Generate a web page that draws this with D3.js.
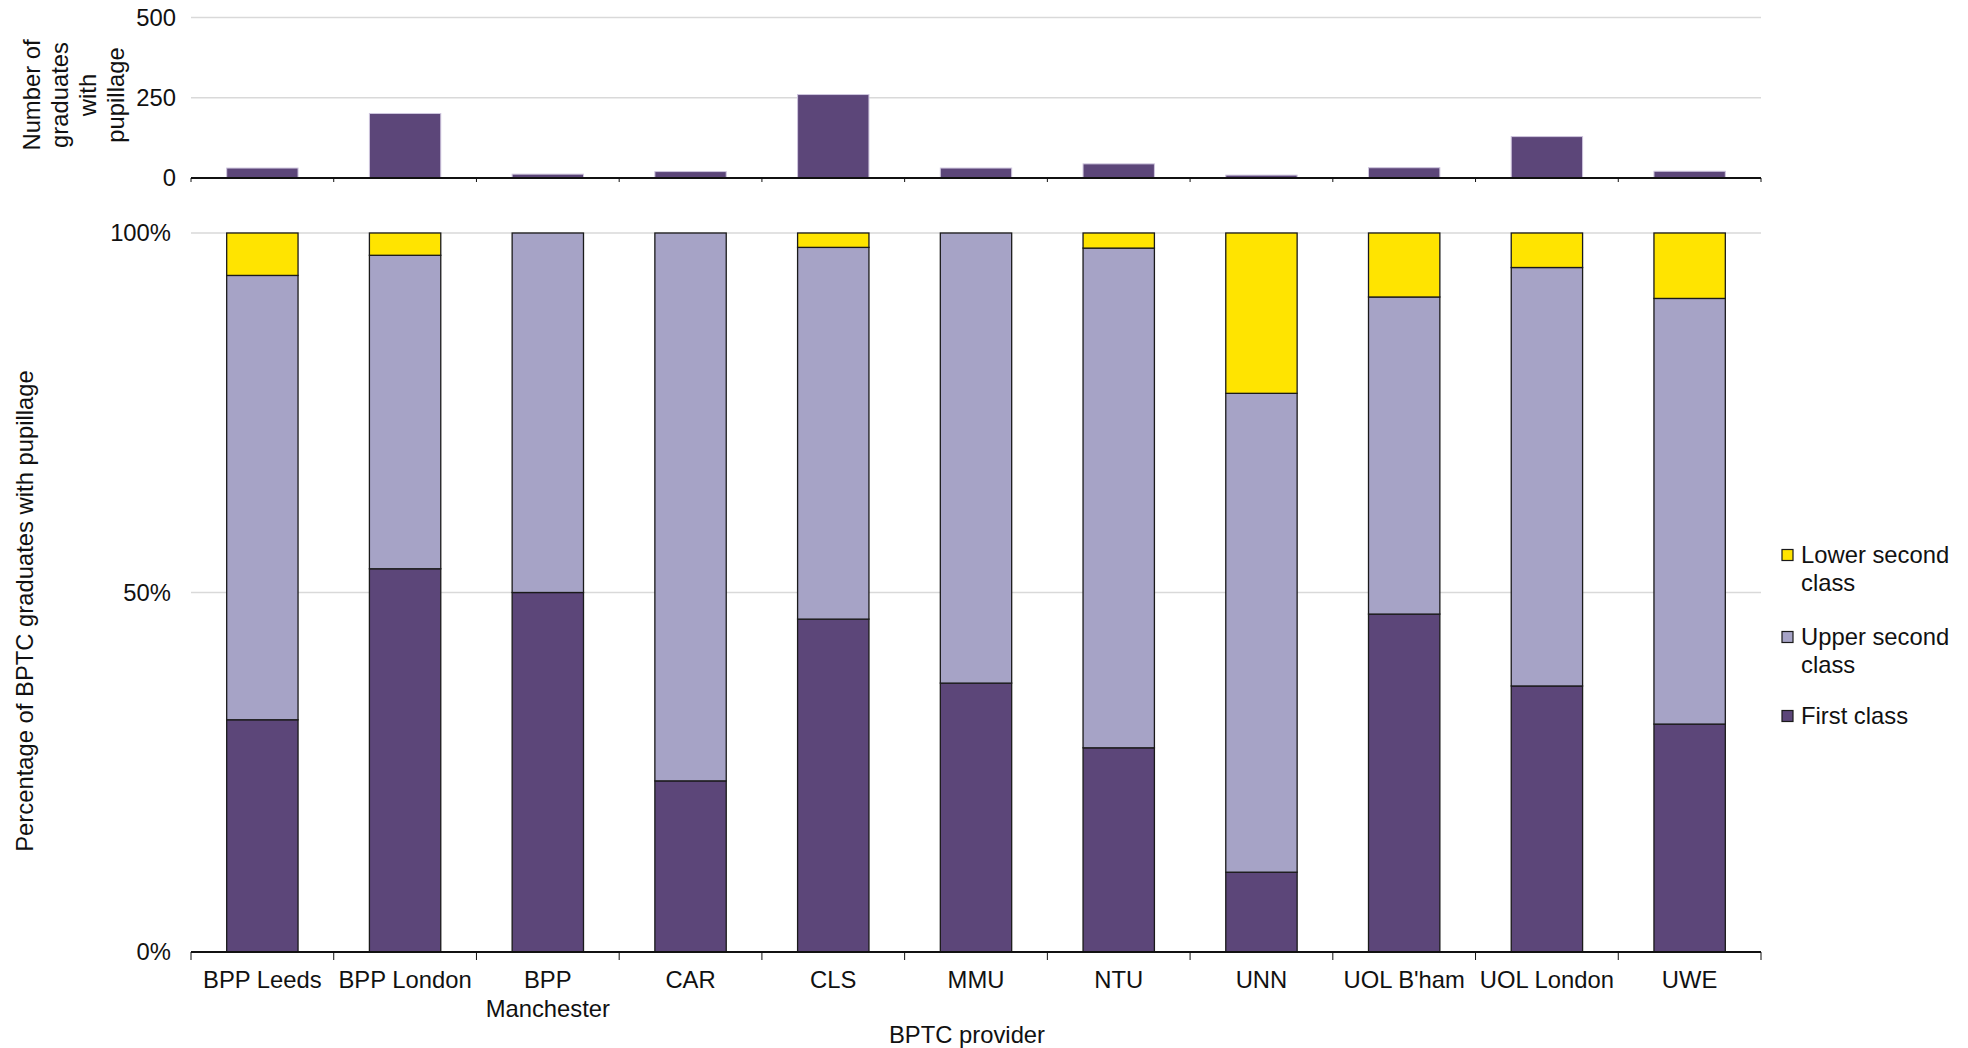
<!DOCTYPE html>
<html>
<head>
<meta charset="utf-8">
<script src="https://cdn.jsdelivr.net/npm/d3@7"></script>
<style>
  html, body { margin: 0; padding: 0; background: #ffffff; }
  svg { display: block; font-family: "Liberation Sans", Arial, sans-serif; }
</style>
</head>
<body>
<svg id="chart" width="1968" height="1048"></svg>
<script>
// ---- data ----
const providers = ["BPP Leeds", "BPP London", "BPP Manchester", "CAR", "CLS", "MMU", "NTU", "UNN", "UOL B'ham", "UOL London", "UWE"];
const graduatesWithPupillage = [31, 201, 12, 20, 260, 31, 44, 9, 32, 129, 21];
const firstClassPct = [32.3, 53.3, 50.0, 23.8, 46.3, 37.4, 28.4, 11.1, 47.0, 37.0, 31.7];
const upperSecondPct = [61.8, 43.6, 50.0, 76.2, 51.7, 62.6, 69.5, 66.6, 44.1, 58.2, 59.2];
const lowerSecondPct = [5.9, 3.1, 0.0, 0.0, 2.0, 0.0, 2.1, 22.3, 8.9, 4.8, 9.1];
const countTicks = [0, 250, 500];
const pctTicks = [0, 50, 100];
const seriesKeys = ["First class", "Upper second class", "Lower second class"];
const legendOrder = ["Lower second class", "Upper second class", "First class"];
const legendLines = { "Lower second class": ["Lower second", "class"], "Upper second class": ["Upper second", "class"], "First class": ["First class"] };

// ---- styling ----
const colors = { "First class": "#5c4679", "Upper second class": "#a6a3c6", "Lower second class": "#ffe400" };
const FS = 23.8;
const svg = d3.select("#chart");
const left = 191, right = 1761;

const x = d3.scaleBand().domain(providers).range([left, right]).paddingInner(0.5).paddingOuter(0.25);
const step = x.step(), bw = x.bandwidth();
const boundary = p => x(p) - (step - bw) / 2;

// ---- top panel: counts ----
const yTop = d3.scaleLinear().domain([0, 500]).range([178, 17.5]);
const gTop = svg.append("g");
gTop.selectAll("line.grid").data(countTicks.filter(d => d > 0)).join("line")
  .attr("x1", left).attr("x2", right)
  .attr("y1", d => yTop(d)).attr("y2", d => yTop(d))
  .attr("stroke", "#d9d9d9").attr("stroke-width", 1.3);
gTop.selectAll("rect").data(providers).join("rect")
  .attr("x", p => x(p)).attr("width", bw)
  .attr("y", (p, i) => yTop(graduatesWithPupillage[i]))
  .attr("height", (p, i) => yTop(0) - yTop(graduatesWithPupillage[i]))
  .attr("fill", colors["First class"]).attr("stroke", "#cfc6de").attr("stroke-width", 1);
gTop.append("line").attr("x1", left).attr("x2", right).attr("y1", yTop(0)).attr("y2", yTop(0))
  .attr("stroke", "#111").attr("stroke-width", 2);
gTop.selectAll("line.tick").data(providers.concat(["__end"])).join("line")
  .attr("x1", (p, i) => i < providers.length ? boundary(p) : right)
  .attr("x2", (p, i) => i < providers.length ? boundary(p) : right)
  .attr("y1", yTop(0)).attr("y2", yTop(0) + 4)
  .attr("stroke", "#111").attr("stroke-width", 1);
gTop.selectAll("text.yt").data(countTicks).join("text")
  .attr("x", 176).attr("y", d => yTop(d)).attr("dy", "0.35em")
  .attr("text-anchor", "end").attr("font-size", FS).attr("fill", "#111")
  .text(d => d);
const topLabel = ["Number of", "graduates", "with", "pupillage"];
const topLabelX = [32, 60, 88, 116];
topLabel.forEach((t, i) => {
  svg.append("text")
    .attr("transform", `translate(${topLabelX[i]},95) rotate(-90)`)
    .attr("text-anchor", "middle").attr("dy", "0.35em")
    .attr("font-size", FS).attr("fill", "#111").text(t);
});

// ---- bottom panel: percentages ----
const yBot = d3.scaleLinear().domain([0, 100]).range([952, 233]);
const rows = providers.map((p, i) => ({
  provider: p,
  "First class": firstClassPct[i],
  "Upper second class": upperSecondPct[i],
  "Lower second class": lowerSecondPct[i]
}));
const stacked = d3.stack().keys(seriesKeys)(rows);
const gBot = svg.append("g");
gBot.selectAll("line.grid").data(pctTicks.filter(d => d > 0)).join("line")
  .attr("x1", left).attr("x2", right)
  .attr("y1", d => yBot(d)).attr("y2", d => yBot(d))
  .attr("stroke", "#d9d9d9").attr("stroke-width", 1.3);
stacked.forEach(layer => {
  gBot.append("g").selectAll("rect").data(layer.filter(d => d[1] - d[0] > 0)).join("rect")
    .attr("x", d => x(d.data.provider)).attr("width", bw)
    .attr("y", d => yBot(d[1])).attr("height", d => yBot(d[0]) - yBot(d[1]))
    .attr("fill", colors[layer.key]).attr("stroke", "#1a1a1a").attr("stroke-width", 1.3);
});
gBot.append("line").attr("x1", left).attr("x2", right).attr("y1", yBot(0)).attr("y2", yBot(0))
  .attr("stroke", "#111").attr("stroke-width", 2);
gBot.selectAll("line.tick").data(providers.concat(["__end"])).join("line")
  .attr("x1", (p, i) => i < providers.length ? boundary(p) : right)
  .attr("x2", (p, i) => i < providers.length ? boundary(p) : right)
  .attr("y1", yBot(0)).attr("y2", yBot(0) + 8)
  .attr("stroke", "#111").attr("stroke-width", 1);
gBot.selectAll("text.yt").data(pctTicks).join("text")
  .attr("x", 171).attr("y", d => yBot(d)).attr("dy", "0.35em")
  .attr("text-anchor", "end").attr("font-size", FS).attr("fill", "#111")
  .text(d => d + "%");

// x tick labels (wrapped)
const wrapLabel = p => p === "BPP Manchester" ? ["BPP", "Manchester"] : [p];
providers.forEach(p => {
  const t = svg.append("text").attr("x", x(p) + bw / 2).attr("y", 988)
    .attr("text-anchor", "middle").attr("font-size", FS).attr("fill", "#111");
  wrapLabel(p).forEach((line, j) => {
    t.append("tspan").attr("x", x(p) + bw / 2).attr("dy", j === 0 ? 0 : 29).text(line);
  });
});

svg.append("text").attr("x", 967).attr("y", 1043).attr("text-anchor", "middle")
  .attr("font-size", FS).attr("fill", "#111").text("BPTC provider");
svg.append("text").attr("transform", "translate(25,611) rotate(-90)")
  .attr("text-anchor", "middle").attr("dy", "0.35em")
  .attr("font-size", FS).attr("fill", "#111").text("Percentage of BPTC graduates with pupillage");

// ---- legend ----
const legendY = { "Lower second class": 555, "Upper second class": 637, "First class": 716 };
legendOrder.forEach(k => {
  const y0 = legendY[k];
  svg.append("rect").attr("x", 1782).attr("y", y0 - 5.5).attr("width", 11).attr("height", 11)
    .attr("fill", colors[k]).attr("stroke", "#1a1a1a").attr("stroke-width", 1.2);
  const t = svg.append("text").attr("x", 1801).attr("y", y0)
    .attr("font-size", FS).attr("fill", "#111");
  legendLines[k].forEach((line, j) => {
    t.append("tspan").attr("x", 1801).attr("dy", j === 0 ? "0.35em" : 28).text(line);
  });
});
</script>
</body>
</html>
